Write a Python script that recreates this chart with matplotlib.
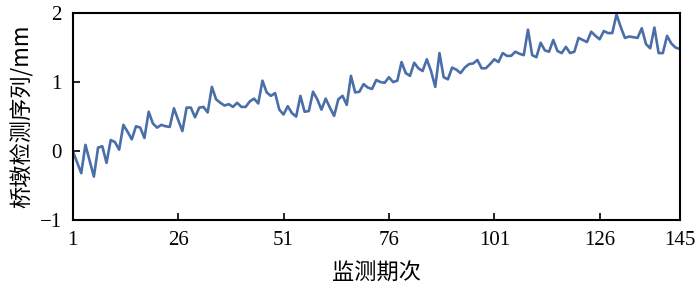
import matplotlib.pyplot as plt
import numpy as np

# 监测期次 1..145，桥墩检测序列 (mm)
periods = np.arange(1, 146)
values = [
    0.00, -0.16, -0.32, 0.09, -0.14, -0.37, 0.05, 0.07, -0.17, 0.16,
    0.13, 0.02, 0.38, 0.28, 0.17, 0.36, 0.34, 0.19, 0.57, 0.40,
    0.34, 0.38, 0.36, 0.35, 0.62, 0.45, 0.29, 0.63, 0.63, 0.49,
    0.63, 0.64, 0.56, 0.93, 0.75, 0.70, 0.66, 0.68, 0.64, 0.70,
    0.64, 0.64, 0.72, 0.76, 0.69, 1.02, 0.85, 0.80, 0.84, 0.60,
    0.53, 0.65, 0.55, 0.50, 0.80, 0.57, 0.58, 0.86, 0.75, 0.60,
    0.76, 0.63, 0.51, 0.75, 0.80, 0.67, 1.09, 0.85, 0.86, 0.97,
    0.92, 0.90, 1.03, 1.00, 0.99, 1.07, 1.00, 1.02, 1.29, 1.13,
    1.09, 1.28, 1.20, 1.16, 1.33, 1.16, 0.93, 1.42, 1.07, 1.04,
    1.21, 1.18, 1.13, 1.21, 1.26, 1.27, 1.32, 1.20, 1.20, 1.26,
    1.33, 1.29, 1.42, 1.38, 1.38, 1.44, 1.41, 1.39, 1.76, 1.39,
    1.36, 1.57, 1.46, 1.44, 1.61, 1.45, 1.42, 1.51, 1.42, 1.44,
    1.64, 1.61, 1.58, 1.73, 1.67, 1.62, 1.74, 1.71, 1.71, 1.98,
    1.80, 1.64, 1.66, 1.65, 1.64, 1.78, 1.55, 1.49, 1.79, 1.42,
    1.42, 1.67, 1.56, 1.50, 1.48,
]
xticks = [1, 26, 51, 76, 101, 126, 145]
yticks = [-1, 0, 1, 2]

plt.rcParams['font.family'] = ['Liberation Serif', 'Noto Sans CJK SC']

fig = plt.figure(figsize=(7, 2.97), dpi=100)
ax = fig.add_axes([0.104, 0.259, 0.867, 0.697])

ax.plot(periods, values, color='#4a6ea8', linewidth=1.9)

ax.set_xlim(1, 145)
ax.set_ylim(-1, 2)
ax.set_xticks(xticks)
ax.set_yticks(yticks)
ax.tick_params(direction='in', length=5, width=1.2, labelsize=15, pad=8)
for s in ax.spines.values():
    s.set_linewidth(1.5)

ax.set_xlabel('监测期次', fontsize=16, family=['Noto Sans CJK SC'], labelpad=8)
ax.set_ylabel('桥墩检测序列/mm', fontsize=16, family=['Noto Sans CJK SC', 'Liberation Serif'], labelpad=4)

fig.savefig('out.png', dpi=100)
